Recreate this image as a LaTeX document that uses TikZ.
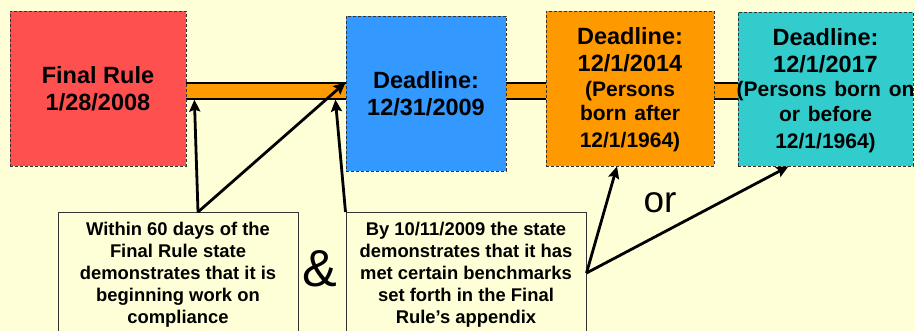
\documentclass[tikz,border=0pt]{standalone}
\usepackage{fontspec}
\setmainfont{Liberation Sans}
\usetikzlibrary{arrows.meta}

\definecolor{paper}{RGB}{255,255,215}
\definecolor{rulered}{RGB}{255,80,80}
\definecolor{dueblue}{RGB}{51,153,255}
\definecolor{dueorange}{RGB}{255,153,0}
\definecolor{dueteal}{RGB}{51,204,204}

\newcommand{\smallline}{\fontsize{21}{24.5}\selectfont}

\begin{document}
\begin{tikzpicture}[x=1pt,y=-1pt,
    datebox/.style={draw=black!80, line width=0.8pt, dash pattern=on 3pt off 2pt,
      inner sep=0pt, align=center, font=\bfseries\fontsize{23.5}{27}\selectfont},
    notebox/.style={draw=black!80, line width=1pt, fill=paper, anchor=north,
      minimum width=240pt, inner xsep=2pt, inner ysep=9.8pt, align=center,
      font=\bfseries\fontsize{18.4}{22}\selectfont},
    pointer/.style={line width=2.8pt, -{Stealth[length=12pt,width=11pt,inset=2pt]}}]
    \path[use as bounding box, fill=paper] (0,0) rectangle (915,331);
    \clip (0,0) rectangle (915,331);

    % time line behind the boxes
    \node[draw=black, line width=1.2pt, fill=dueorange, inner sep=0pt,
      minimum width=560pt, minimum height=16pt] (bar) at (462,91) {};

    \node[datebox, fill=rulered, minimum width=176pt, minimum height=155pt] (rule) at (98,88.5)
      {Final Rule\\1/28/2008};
    \node[datebox, fill=dueblue, minimum width=160pt, minimum height=155pt] (deadA) at (426,93.5)
      {Deadline:\\12/31/2009};
    \node[datebox, fill=dueorange, minimum width=168pt, minimum height=155pt, text width=168pt] (deadB) at (630,88.5)
      {\rule{0pt}{20pt}Deadline:\\12/1/2014\par\smallline (Persons\\born after\\12/1/1964)};
    \node[datebox, fill=dueteal, minimum width=175pt, minimum height=154pt, text width=175pt] (deadC) at (825.5,89)
      {\rule{0pt}{20pt}Deadline:\\12/1/2017\par\smallline \makebox[175pt]{(Persons born on}\\or before\\12/1/1964)};

    % requirements
    \node[notebox] (within) at (178,212)
      {Within 60 days of the\\Final Rule state\\demonstrates that it is\\beginning work on\\compliance};
    \node[notebox] (bench) at (466,212)
      {By 10/11/2009 the state\\demonstrates that it has\\met certain benchmarks\\set forth in the Final\\Rule’s appendix};

    \node[font=\fontsize{52}{52}\selectfont, inner sep=0pt] (amp) at (320,269) {\&};
    \node[font=\fontsize{37}{37}\selectfont, inner sep=0pt] (or) at (660,203) {or};

    \draw[pointer] ([xshift=20pt]within.north) -- ([xshift=13pt]bar.south west);
    \draw[pointer] ([xshift=20pt]within.north) -- (deadA.west |- bar.north);
    \draw[pointer] (bench.north west) -- ([xshift=154pt]bar.south west);
    \draw[pointer] ([yshift=-61pt]bench.north east) -- ([xshift=-13pt]deadB.south);
    \draw[pointer] ([yshift=-61pt]bench.north east) -- ([xshift=-37pt]deadC.south);
\end{tikzpicture}
\end{document}
